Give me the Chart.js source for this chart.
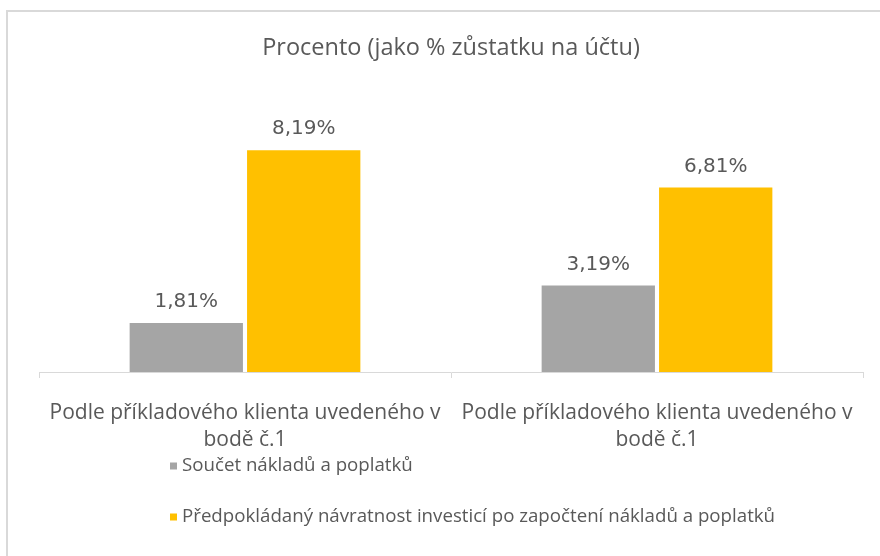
<!DOCTYPE html>
<html>
<head>
<meta charset="utf-8">
<script src="https://cdn.jsdelivr.net/npm/chart.js@4/dist/chart.umd.min.js"></script>
<style>
  html, body { margin: 0; padding: 0; background: #fff; }
  canvas { display: block; }
</style>
</head>
<body>
<canvas id="chart" width="880" height="556"></canvas>
<script>
const categories = [
  ["Podle příkladového klienta uvedeného v", "bodě č.1"],
  ["Podle příkladového klienta uvedeného v", "bodě č.1"],
];
const seriesNames = [
  "Součet nákladů a poplatků",
  "Předpokládaný návratnost investicí po započtení nákladů a poplatků",
];
const costs = [1.81, 3.19];
const returns = [8.19, 6.81];

const textColor = "#595959";
const labelFont = "'Open Sans', sans-serif";

// frame like the exported office chart (top + left edge only visible)
const frame = {
  id: "frame",
  beforeDraw(chart) {
    const ctx = chart.ctx;
    ctx.save();
    ctx.strokeStyle = "#d9d9d9";
    ctx.lineWidth = 2;
    ctx.beginPath();
    ctx.moveTo(7, 556);
    ctx.lineTo(7, 11);
    ctx.lineTo(880, 11);
    ctx.stroke();
    ctx.restore();
  },
};

// value labels over the bars
const valueLabels = {
  id: "valueLabels",
  afterDatasetsDraw(chart) {
    const ctx = chart.ctx;
    ctx.save();
    ctx.font = "20px 'DejaVu Sans', sans-serif";
    ctx.fillStyle = textColor;
    ctx.textAlign = "center";
    ctx.textBaseline = "alphabetic";
    chart.data.datasets.forEach((ds, i) => {
      chart.getDatasetMeta(i).data.forEach((bar, j) => {
        const txt = ds.data[j].toFixed(2).replace(".", ",") + "%";
        ctx.fillText(txt, bar.x, bar.y - 16);
      });
    });
    ctx.restore();
  },
};

// vertical legend at the bottom, left aligned
const stackedLegend = {
  id: "stackedLegend",
  afterDraw(chart) {
    const ctx = chart.ctx;
    const x = 170;
    const rows = [466, 517];
    ctx.save();
    ctx.font = "18.7px " + labelFont;
    ctx.textBaseline = "middle";
    ctx.textAlign = "left";
    chart.data.datasets.forEach((ds, i) => {
      const y = rows[i];
      ctx.fillStyle = ds.backgroundColor;
      ctx.fillRect(x, y - 3.5, 7, 7);
      ctx.fillStyle = textColor;
      ctx.fillText(ds.label, x + 12, y);
    });
    ctx.restore();
  },
};

new Chart(document.getElementById("chart"), {
  type: "bar",
  data: {
    labels: categories,
    datasets: [
      { label: seriesNames[0], data: costs, backgroundColor: "#A5A5A5" },
      { label: seriesNames[1], data: returns, backgroundColor: "#FFC000" },
    ],
  },
  options: {
    responsive: false,
    animation: false,
    events: [],
    layout: { padding: { left: 39, right: 17, top: 0, bottom: 80 } },
    datasets: {
      bar: { categoryPercentage: 0.57, barPercentage: 0.965 },
    },
    scales: {
      x: {
        grid: {
          display: true,
          drawOnChartArea: false,
          tickLength: 6,
          color: "#d9d9d9",
        },
        border: { display: true, color: "#d9d9d9", width: 1 },
        ticks: {
          color: textColor,
          padding: 22,
          maxRotation: 0,
          autoSkip: false,
          font: { family: labelFont, size: 21, lineHeight: 27 / 21 },
        },
      },
      y: {
        display: false,
        min: 0,
        max: 10,
      },
    },
    plugins: {
      legend: { display: false },
      tooltip: { enabled: false },
      title: {
        display: true,
        text: "Procento (jako % zůstatku na účtu)",
        color: textColor,
        padding: { top: 34, bottom: 39 },
        font: { family: labelFont, size: 23.5, weight: "normal", lineHeight: 1.2 },
      },
    },
  },
  plugins: [frame, valueLabels, stackedLegend],
});
</script>
</body>
</html>
